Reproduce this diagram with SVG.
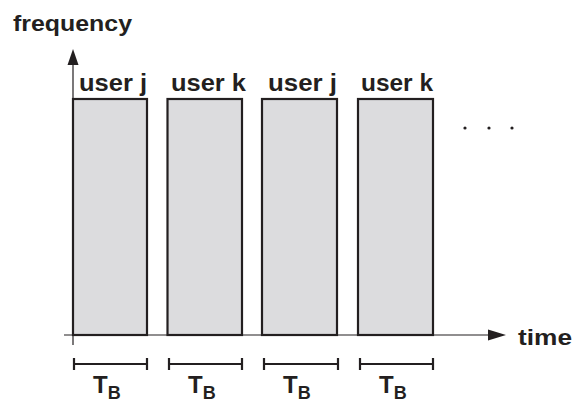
<svg xmlns="http://www.w3.org/2000/svg" width="574" height="405" viewBox="0 0 574 405">
<defs>
<style>
.box{fill:#dcdcde;stroke:#231f20;stroke-width:2.2}
.axis{stroke:#231f20;stroke-width:1.2;fill:none}
.br{stroke:#231f20;stroke-width:2.2;fill:none}
.lbl{font-family:"Liberation Sans",Arial,sans-serif;font-weight:bold;fill:#231f20}
.head{fill:#231f20}
</style>
</defs>
<rect width="574" height="405" fill="#ffffff"/>
<g id="connectors">
<line class="axis" x1="73" y1="345" x2="73" y2="62"/>
<polygon class="head" points="73,49 67.5,65 78.5,65"/>
<line class="axis" x1="64" y1="335" x2="492" y2="335"/>
<polygon class="head" points="506,335 488,329.5 488,340.5"/>
</g>
<g id="axis-labels">
<text class="lbl" x="13" y="31" font-size="22" textLength="119" lengthAdjust="spacingAndGlyphs">frequency</text>
<text class="lbl" x="518" y="345" font-size="22" textLength="54" lengthAdjust="spacingAndGlyphs">time</text>
</g>
<g id="slot1">
<rect class="box" x="73" y="99" width="74" height="236"/>
<text class="lbl" x="79" y="91" font-size="23" textLength="68" lengthAdjust="spacingAndGlyphs">user j</text>
</g>
<g id="slot2">
<rect class="box" x="167.5" y="99" width="74.5" height="236"/>
<text class="lbl" x="171" y="91" font-size="23" textLength="75" lengthAdjust="spacingAndGlyphs">user k</text>
</g>
<g id="slot3">
<rect class="box" x="262" y="99" width="75" height="236"/>
<text class="lbl" x="268" y="91" font-size="23" textLength="69" lengthAdjust="spacingAndGlyphs">user j</text>
</g>
<g id="slot4">
<rect class="box" x="358" y="99" width="75" height="236"/>
<text class="lbl" x="361" y="91" font-size="23" textLength="72" lengthAdjust="spacingAndGlyphs">user k</text>
</g>
<g id="dots" fill="#231f20">
<circle cx="465" cy="128" r="1.6"/>
<circle cx="489" cy="128" r="1.6"/>
<circle cx="512" cy="128" r="1.6"/>
</g>
<g id="durations">
<g id="tb1">
<path class="br" d="M74,358 V370 M74,364 H147 M147,358 V370"/>
<text class="lbl" x="93" y="393" font-size="24">T<tspan font-size="18" dy="6">B</tspan></text>
</g>
<g id="tb2">
<path class="br" d="M169,358 V370 M169,364 H242 M242,358 V370"/>
<text class="lbl" x="188" y="393" font-size="24">T<tspan font-size="18" dy="6">B</tspan></text>
</g>
<g id="tb3">
<path class="br" d="M264,358 V370 M264,364 H338 M338,358 V370"/>
<text class="lbl" x="283" y="393" font-size="24">T<tspan font-size="18" dy="6">B</tspan></text>
</g>
<g id="tb4">
<path class="br" d="M360,358 V370 M360,364 H433 M433,358 V370"/>
<text class="lbl" x="379" y="393" font-size="24">T<tspan font-size="18" dy="6">B</tspan></text>
</g>
</g>
</svg>
